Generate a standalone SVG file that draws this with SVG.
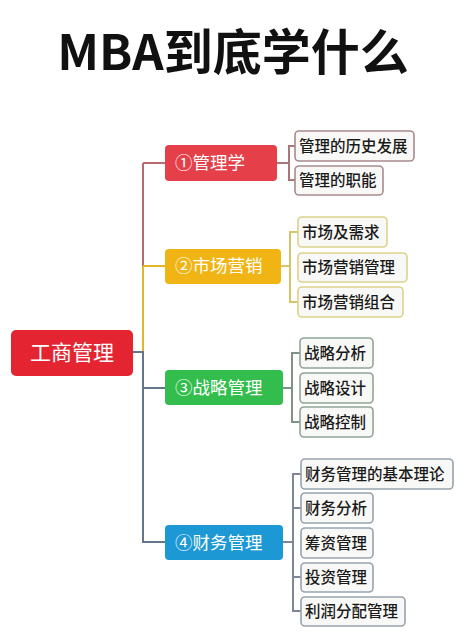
<svg xmlns="http://www.w3.org/2000/svg" width="464" height="640" viewBox="0 0 464 640">
<style>
text{font-family:"Noto Sans CJK SC","Noto Sans",sans-serif;}
.title{font-size:49px;font-weight:bold;fill:#111;}
.root{font-size:21px;fill:#fff;}
.l1{font-size:17.5px;fill:#fff;}
.l2{font-size:15.5px;fill:#1a1a1a;font-weight:500;}
.c{fill:#f8f8f6;stroke-width:1.6;}
.ln{fill:none;stroke-width:2;}
</style>
<rect width="464" height="640" fill="#ffffff"/>
<text class="title" x="233" y="70" text-anchor="middle">MBA到底学什么</text>
<g id="connectors">
<path class="ln" stroke="#b86a6e" d="M143 163 V266 M143 163 H165"/>
<path class="ln" stroke="#e2b52a" d="M143 266 V352 M143 266 H165"/>
<path class="ln" stroke="#66768a" d="M133 352 H143 V542 H165 M143 388 H165"/>
<path class="ln" stroke="#a8777a" d="M277 163 H289 M295 146 H289 V180 H295"/>
<path class="ln" stroke="#d6c46a" d="M281 266 H290 M298 232 H290 V302 H298"/>
<path class="ln" stroke="#7f9486" d="M283 388 H292 M300 353 H292 V422 H300"/>
<path class="ln" stroke="#7c8896" d="M283 542 H293 M301 474 H293 V611 H301 M293 508 H301 M293 577 H301"/>
</g>
<g id="root"><rect x="11" y="330" width="122" height="46" rx="5" fill="#e42531"/><text class="root" x="72" y="360" text-anchor="middle">工商管理</text></g>
<g id="n1"><rect x="165" y="145" width="112" height="36" rx="4" fill="#e5404a"/><text class="l1" x="175" y="169">①管理学</text></g>
<g id="n2"><rect x="165" y="249" width="116" height="35" rx="4" fill="#f0b514"/><text class="l1" x="175" y="272">②市场营销</text></g>
<g id="n3"><rect x="165" y="370" width="118" height="35" rx="4" fill="#33bd4c"/><text class="l1" x="175" y="394">③战略管理</text></g>
<g id="n4"><rect x="165" y="525" width="118" height="35" rx="4" fill="#1c98d4"/><text class="l1" x="175" y="549">④财务管理</text></g>
<g id="c11"><rect class="c" stroke="#a88a8e" x="295" y="131" width="119" height="30" rx="4"/><text class="l2" x="299" y="152">管理的历史发展</text></g>
<g id="c12"><rect class="c" stroke="#a88a8e" x="295" y="166" width="88" height="29" rx="4"/><text class="l2" x="299" y="186">管理的职能</text></g>
<g id="c21"><rect class="c" stroke="#dcd28c" x="298" y="217" width="89" height="30" rx="4"/><text class="l2" x="302" y="238">市场及需求</text></g>
<g id="c22"><rect class="c" stroke="#dcd28c" x="298" y="253" width="109" height="29" rx="4"/><text class="l2" x="302" y="273">市场营销管理</text></g>
<g id="c23"><rect class="c" stroke="#dcd28c" x="298" y="287" width="105" height="30" rx="4"/><text class="l2" x="302" y="308">市场营销组合</text></g>
<g id="c31"><rect class="c" stroke="#8fa596" x="300" y="338" width="73" height="30" rx="4"/><text class="l2" x="304" y="359">战略分析</text></g>
<g id="c32"><rect class="c" stroke="#8fa596" x="300" y="373" width="73" height="30" rx="4"/><text class="l2" x="304" y="394">战略设计</text></g>
<g id="c33"><rect class="c" stroke="#8fa596" x="300" y="407" width="73" height="30" rx="4"/><text class="l2" x="304" y="428">战略控制</text></g>
<g id="c41"><rect class="c" stroke="#98a2ae" x="301" y="459" width="152" height="30" rx="4"/><text class="l2" x="305" y="480">财务管理的基本理论</text></g>
<g id="c42"><rect class="c" stroke="#98a2ae" x="301" y="493" width="72" height="30" rx="4"/><text class="l2" x="305" y="514">财务分析</text></g>
<g id="c43"><rect class="c" stroke="#98a2ae" x="301" y="528" width="72" height="30" rx="4"/><text class="l2" x="305" y="549">筹资管理</text></g>
<g id="c44"><rect class="c" stroke="#98a2ae" x="301" y="563" width="72" height="29" rx="4"/><text class="l2" x="305" y="583">投资管理</text></g>
<g id="c45"><rect class="c" stroke="#98a2ae" x="301" y="597" width="104" height="29" rx="4"/><text class="l2" x="305" y="617">利润分配管理</text></g>
</svg>
